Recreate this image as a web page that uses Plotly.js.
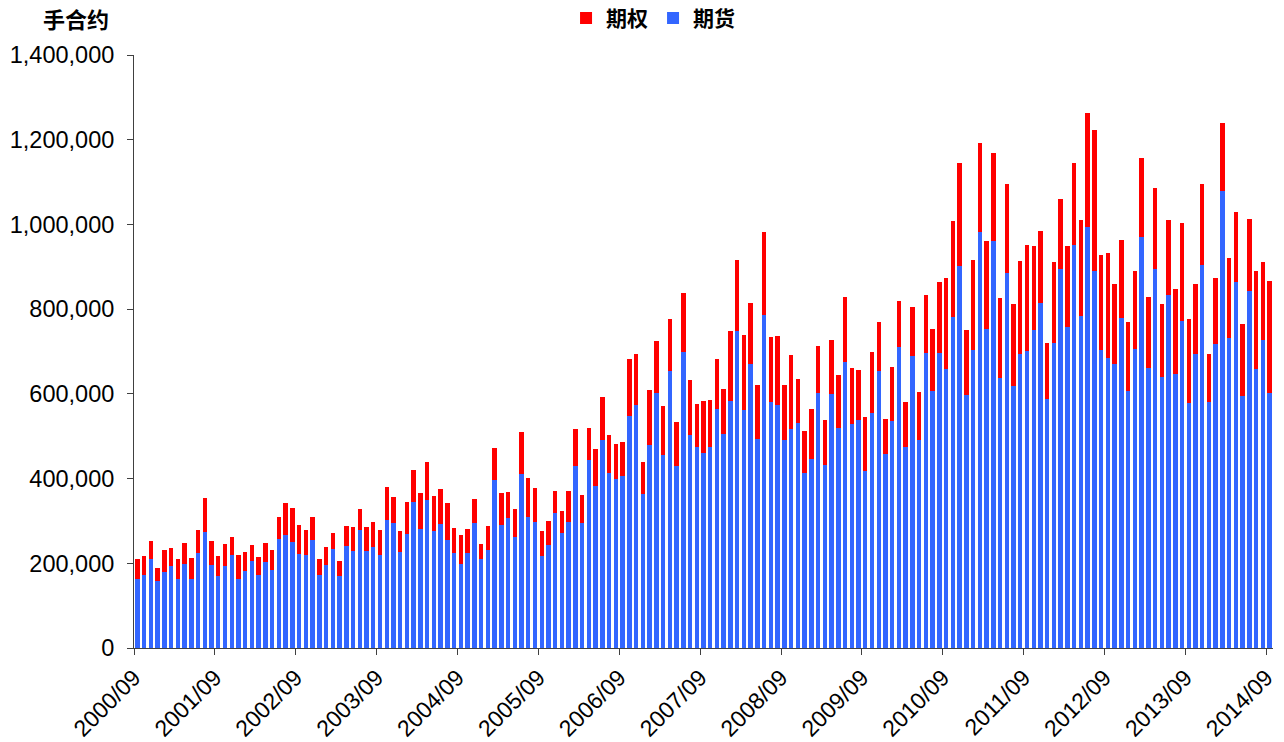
<!DOCTYPE html>
<html>
<head>
<meta charset="utf-8">
<script src="https://cdn.plot.ly/plotly-3.0.1.min.js"></script>
<style>html,body{margin:0;padding:0;background:#fff;}#chart{width:1284px;height:742px;}</style>
</head>
<body>
<div id="chart"></div>
<script>
// Months 2000/09 .. 2014/09 (169 categories)
const startYear = 2000, startMonth = 9, monthCount = 169;
const months = [];
for (let i = 0; i < monthCount; i++) {
  const m = startMonth - 1 + i;
  const y = startYear + Math.floor(m / 12);
  const mm = (m % 12) + 1;
  months.push(y + '/' + (mm < 10 ? '0' + mm : mm));
}

// 期货 (futures) contracts
const futures = [
  163000,172000,209000,158000,179000,194000,164000,199000,164000,224000,
  273000,196000,171000,194000,219000,164000,181000,205000,172000,203000,
  183000,258000,266000,251000,223000,220000,256000,172000,195000,234000,
  171000,242000,230000,279000,229000,239000,219000,302000,294000,227000,
  270000,345000,281000,349000,276000,292000,255000,225000,199000,225000,
  294000,209000,232000,397000,290000,308000,262000,411000,310000,298000,
  218000,244000,319000,271000,298000,430000,296000,444000,382000,492000,
  413000,400000,406000,547000,573000,363000,480000,601000,456000,655000,
  430000,698000,502000,475000,461000,475000,565000,506000,582000,748000,
  563000,671000,494000,786000,581000,574000,491000,518000,532000,412000,
  446000,601000,433000,600000,520000,676000,528000,538000,417000,555000,
  654000,458000,536000,711000,475000,690000,492000,697000,606000,697000,
  659000,782000,903000,598000,703000,981000,752000,962000,637000,885000,
  619000,693000,701000,750000,814000,588000,721000,895000,759000,952000,
  783000,994000,891000,703000,684000,671000,779000,606000,705000,971000,
  661000,894000,640000,833000,648000,773000,578000,695000,904000,581000,
  717000,1078000,731000,865000,596000,842000,659000,727000,603000
];

// 期权 (options) contracts
const options = [
  46000,46000,44000,30000,52000,41000,47000,48000,48000,55000,
  81000,57000,47000,51000,44000,56000,46000,38000,43000,45000,
  48000,51000,77000,80000,67000,59000,53000,38000,44000,38000,
  34000,45000,56000,50000,56000,59000,60000,77000,63000,49000,
  74000,76000,85000,90000,84000,83000,87000,58000,68000,56000,
  57000,37000,56000,76000,76000,60000,67000,99000,91000,79000,
  58000,55000,52000,53000,72000,86000,65000,75000,89000,101000,
  91000,81000,80000,136000,122000,76000,128000,124000,116000,121000,
  104000,139000,130000,100000,121000,111000,117000,105000,167000,168000,
  176000,144000,126000,195000,154000,163000,130000,173000,102000,101000,
  118000,113000,106000,127000,124000,152000,132000,119000,128000,145000,
  116000,82000,127000,109000,106000,114000,113000,137000,146000,167000,
  215000,225000,243000,152000,214000,212000,209000,206000,189000,210000,
  193000,221000,251000,198000,171000,132000,190000,165000,191000,194000,
  227000,270000,333000,225000,249000,189000,185000,163000,186000,185000,
  167000,192000,171000,178000,200000,230000,198000,164000,191000,112000,
  156000,162000,190000,165000,168000,171000,232000,185000,263000
];

const tickLabels = ['2000/09','2001/09','2002/09','2003/09','2004/09','2005/09','2006/09',
  '2007/09','2008/09','2009/09','2010/09','2011/09','2012/09','2013/09','2014/09'];

const xIdx = months.map((_, i) => i);
// ticks (and label anchors) sit on the left boundary of each September bar
const boundaryPos = tickLabels.map(l => months.indexOf(l) - 0.5);

const latin = 'Arial, "Liberation Sans", sans-serif';
const cjk = '"Noto Sans CJK SC", "Noto Sans", sans-serif';

const traces = [
  {type:'bar', name:'期货', x:xIdx, y:futures, marker:{color:'#3366FF', line:{width:0}}, hoverinfo:'skip'},
  {type:'bar', name:'期权', x:xIdx, y:options, marker:{color:'#FF0000', line:{width:0}}, hoverinfo:'skip'}
];

const range = [-0.5, monthCount - 0.5];

const layout = {
  width:1284, height:742,
  margin:{l:134, r:11, t:55, b:94, autoexpand:false},
  paper_bgcolor:'#fff', plot_bgcolor:'#fff',
  barmode:'stack', bargap:0.34,
  showlegend:true,
  legend:{orientation:'h', x:0.4557, xanchor:'center', y:1.062, yanchor:'middle',
    traceorder:'reversed', font:{family:cjk, size:21, weight:'bold', color:'#000'},
    bgcolor:'rgba(0,0,0,0)'},
  xaxis:{type:'linear', range:range, tickvals:boundaryPos, ticktext:tickLabels, automargin:false,
    tickangle:-45, ticks:'outside', ticklen:6, tickcolor:'#404040',
    showline:true, linecolor:'#404040', linewidth:1,
    showgrid:false, zeroline:false, fixedrange:true, ticklabelstandoff:0,
    tickfont:{family:latin, size:23, color:'#000'}},
  yaxis:{range:[0,1400000], dtick:200000, tickformat:',d', ticks:'outside', ticklen:6, automargin:false,
    tickcolor:'#404040', showline:true, linecolor:'#404040', linewidth:1,
    showgrid:false, zeroline:false, fixedrange:true, ticklabelstandoff:8,
    tickfont:{family:latin, size:23.5, color:'#000'}},
  annotations:[
    {text:'手合约', xref:'paper', yref:'paper', x:-0.0509, y:1.062, xanchor:'center', yanchor:'middle',
     showarrow:false, font:{family:cjk, size:22, weight:'bold', color:'#000'}}
  ]
};

Plotly.newPlot('chart', traces, layout, {displayModeBar:false, staticPlot:true});
</script>
</body>
</html>
